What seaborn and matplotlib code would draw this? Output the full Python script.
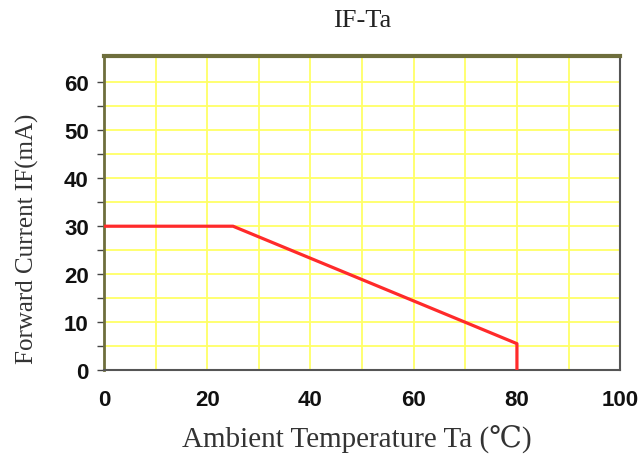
import matplotlib
matplotlib.use("Agg")
import matplotlib.pyplot as plt
import seaborn as sns
import pandas as pd

sns.set_style("white")

# derating curve
temp_c = [0, 25, 80, 80]
current_ma = [30, 30, 5.5, 0]

x_major = [0, 20, 40, 60, 80, 100]
x_minor = [10, 30, 50, 70, 90]
y_major = [0, 10, 20, 30, 40, 50, 60]
y_minor = [5, 15, 25, 35, 45, 55]

serif = ["Liberation Serif", "DejaVu Serif", "Noto Sans CJK TC", "DejaVu Sans"]

df = pd.DataFrame({"Ta": temp_c, "IF": current_ma})

fig = plt.figure(figsize=(6.42, 4.64), dpi=100)
ax = fig.add_axes([0.162, 0.2004, 0.804, 0.6766])

sns.lineplot(data=df, x="Ta", y="IF", estimator=None, sort=False,
             color="#ff2a2a", linewidth=2.3, ax=ax, zorder=3)

ax.set_xlim(0, 100)
ax.set_ylim(0, 65.5)
ax.set_xticks(x_major)
ax.set_xticks(x_minor, minor=True)
ax.set_yticks(y_major)
ax.set_yticks(y_minor, minor=True)

ax.grid(True, which="both", color="#ffff66", linewidth=1.3, zorder=0)
ax.set_axisbelow(True)

ax.tick_params(axis="x", which="both", length=0, pad=14)
ax.tick_params(axis="y", which="both", length=5, width=1, color="#444444",
               direction="out", left=True, pad=6)
for lab in ax.get_xticklabels() + ax.get_yticklabels():
    lab.set_family("Liberation Sans")
    lab.set_fontweight("bold")
    lab.set_fontsize(16)
    lab.set_color("#111111")

for side in ["top", "left"]:
    ax.spines[side].set_color("#6e6e3c")
ax.spines["top"].set_linewidth(3)
ax.spines["left"].set_linewidth(2)
for side in ["bottom", "right"]:
    ax.spines[side].set_color("#555555")
    ax.spines[side].set_linewidth(1.5)

ax.set_xlabel("Ambient Temperature Ta (℃)", family=serif, fontsize=21,
              color="#333333")
ax.xaxis.set_label_coords(0.49, -0.175)
ax.set_ylabel("Forward Current IF(mA)", family=serif, fontsize=18,
              color="#333333")
ax.yaxis.set_label_coords(-0.125, 0.42)
ax.set_title("IF-Ta", family=serif, fontsize=19, color="#222222", pad=22)

fig.savefig("out.png", dpi=100)
plt.close(fig)
